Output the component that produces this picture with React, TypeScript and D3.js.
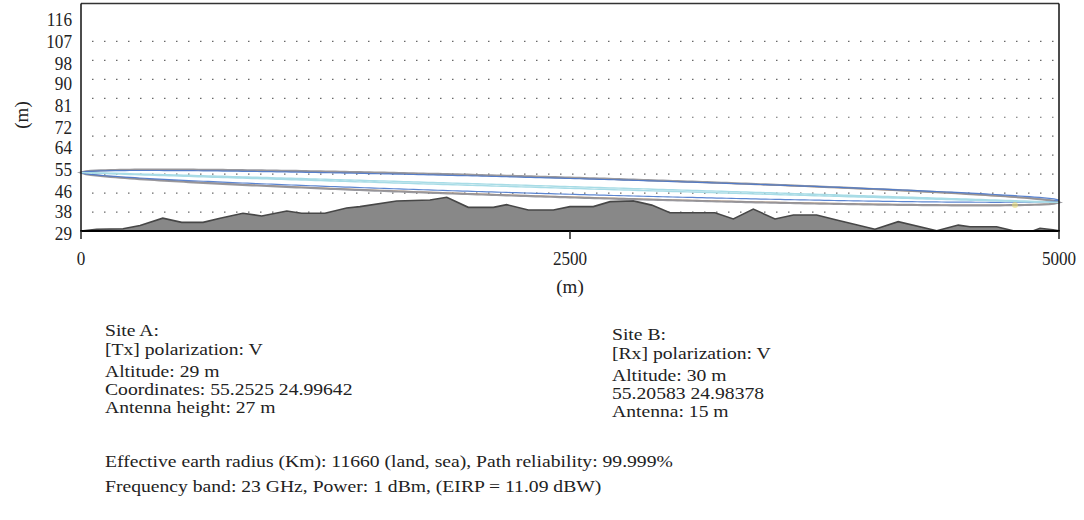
import React from 'react';
import * as d3 from 'd3';

// Terrain profile (distance in m, elevation in m)
const distances = [0, 80, 215, 302, 418, 515, 624, 711, 828, 924, 1052, 1128, 1247, 1358, 1426, 1614, 1784, 1870, 1980, 2108, 2176, 2287, 2415, 2500, 2619, 2705, 2824, 2918, 3011, 3165, 3241, 3335, 3437, 3548, 3642, 3761, 3863, 4059, 4178, 4375, 4485, 4545, 4681, 4766, 4869, 4903, 4969, 5000];
const elevations = [29, 29.7, 29.9, 31.2, 34.2, 32.5, 32.5, 34.2, 36.2, 35.1, 37.1, 36.2, 36.2, 38.3, 38.9, 41.2, 41.6, 42.7, 38.6, 38.6, 39.7, 37.5, 37.5, 38.9, 38.9, 40.9, 41.2, 39.5, 36.4, 36.4, 36.4, 33.9, 37.9, 33.9, 35.5, 35.5, 33.5, 29.7, 32.8, 29.1, 31.4, 30.7, 30.7, 29.1, 29.1, 30.1, 29.5, 29.1];

// Fresnel zone ellipses: start height, end height, max radius (m)
const zoneNames = ['orange', 'grey', 'blue', 'cyan'];
const zoneStart = [52.7, 52.7, 52.7, 52.7];
const zoneEnd = [40.6, 40.6, 41.5, 40.6];
const zoneRadius = [3.8, 4.0, 3.2, 0.35];
const zoneColors = ['#e39d55', '#8e8e95', '#4a78cc', '#a8dce6'];
const zoneWidths = [1, 2.2, 1.2, 1.4];
const zoneOpacity = [0.8, 0.9, 0.9, 1];

// marker near site B
const markerDist = [4775];
const markerElev = [39.5];

const yTickLabels = [29, 38, 46, 55, 64, 72, 81, 90, 98, 107, 116];
const xTickValues = [0, 2500, 5000];

const siteA = ['Site A:', '[Tx] polarization: V', 'Altitude: 29 m', 'Coordinates: 55.2525 24.99642', 'Antenna height: 27 m'];
const siteB = ['Site B:', '[Rx] polarization: V', 'Altitude: 30 m', '55.20583 24.98378', 'Antenna: 15 m'];
const footer = [
  'Effective earth radius (Km): 11660 (land, sea), Path reliability: 99.999%',
  'Frequency band: 23 GHz, Power: 1 dBm, (EIRP = 11.09 dBW)',
];

const L = 81, R = 1059, T = 3.5, B = 231;
const FONT = '"Liberation Serif", "Times New Roman", serif';
const TS = 16.5; // text size
const SX = 1.19; // horizontal stretch of the info text

export default function App() {
  const x = d3.scaleLinear().domain([0, 5000]).range([L, R]);
  const y = d3.scaleLinear().domain([29, 29 + (B - T) / 2.465]).range([B, T]);

  const terrain = distances.map((d, i) => [d, elevations[i]] as [number, number]);
  const area = d3.area<[number, number]>()
    .x(d => x(d[0])).y0(y(29)).y1(d => y(d[1]));
  const line = d3.line<[number, number]>().x(d => x(d[0])).y(d => y(d[1]));

  const ts = d3.range(0, 1.0001, 0.005);
  const ellipsePath = (i: number) => {
    const a = zoneStart[i], b = zoneEnd[i], r = zoneRadius[i];
    const top = ts.map(t => [t * 5000, a + (b - a) * t + r * 2 * Math.sqrt(t * (1 - t))] as [number, number]);
    const bot = ts.slice().reverse().map(t => [t * 5000, a + (b - a) * t - r * 2 * Math.sqrt(t * (1 - t))] as [number, number]);
    return line(top.concat(bot)) + 'Z';
  };

  // dotted grid rows
  const gridRows = d3.range(2, 12).map(k => T + k * (B - T) / 12);

  const lineH = [0, 19, 41, 59, 77];

  const infoText = (s: string, tx: number, ty: number) => (
    <text key={s} transform={`translate(${tx},${ty}) scale(${SX},1)`} fontSize={TS} fill="#222">{s}</text>
  );

  return (
    <svg width={1084} height={520} style={{ position: 'absolute', left: 0, top: 0, background: '#fff' }}
      fontFamily={FONT}>
      <rect x={0} y={0} width={1084} height={520} fill="#fff" />
      {gridRows.map((gy, i) => (
        <line key={i} x1={92.2} x2={1054} y1={gy} y2={gy} stroke="#444" strokeWidth={1.2} strokeDasharray="1.2 10.8" />
      ))}
      <path d={area(terrain) || ''} fill="#888888" />
      <path d={line(terrain) || ''} fill="none" stroke="#474747" strokeWidth={1.6} />
      {zoneNames.map((n, i) => (
        <path key={n} d={ellipsePath(i)} fill="none" stroke={zoneColors[i]} strokeWidth={zoneWidths[i]} strokeOpacity={zoneOpacity[i]} />
      ))}
      {markerDist.map((d, i) => (
        <circle key={i} cx={x(d)} cy={y(markerElev[i])} r={3} fill="#e6dc7a" opacity={0.6} />
      ))}
      {/* frame */}
      <line x1={L} x2={R} y1={T} y2={T} stroke="#333" strokeWidth={1.5} />
      <line x1={L} x2={L} y1={T} y2={B} stroke="#111" strokeWidth={1.5} />
      <line x1={R} x2={R} y1={T} y2={B} stroke="#111" strokeWidth={1.5} />
      <line x1={L - 0.7} x2={R + 0.7} y1={B} y2={B} stroke="#000" strokeWidth={2} />
      {xTickValues.map(v => (
        <g key={v}>
          <line x1={x(v)} x2={x(v)} y1={B} y2={239} stroke="#222" strokeWidth={1.5} />
          <text transform={`translate(${x(v)},265) scale(0.9,1)`} textAnchor="middle" fontSize={19} fill="#222">{v}</text>
        </g>
      ))}
      {yTickLabels.map(v => (
        <text key={v} transform={`translate(72,${y(v) + 9}) scale(0.93,1)`} textAnchor="end" fontSize={18.5} fill="#222">{v}</text>
      ))}
      <text transform="translate(28,115) rotate(-90)" textAnchor="middle" fontSize={19} fill="#222">(m)</text>
      <text x={570} y={293} textAnchor="middle" fontSize={19} fill="#222">(m)</text>
      {siteA.map((s, i) => infoText(s, 105, 335.5 + lineH[i]))}
      {siteB.map((s, i) => infoText(s, 612, 339.5 + lineH[i]))}
      {footer.map((s, i) => infoText(s, 105, 466.5 + i * 25))}
    </svg>
  );
}
